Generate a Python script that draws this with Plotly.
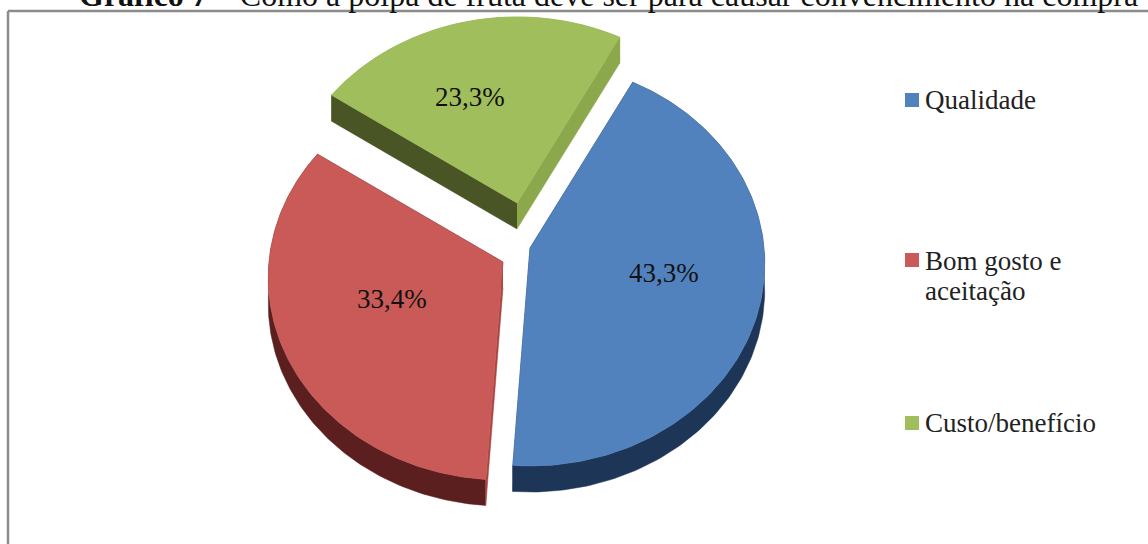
import numpy as np
import plotly.graph_objects as go

# Chart data
categories = ["Qualidade", "Bom gosto e aceitação", "Custo/benefício"]
shares = [43.3, 33.4, 23.3]
title_bold = "Gráfico 7"
title_rest = " – Como a polpa de fruta deve ser para causar convencimento na compra"
legend_lines = [["Qualidade"], ["Bom gosto e", "aceitação"], ["Custo/benefício"]]

# Styling per slice: top face, outer rim, cut face
top_colors = ["#5282BE", "#C95A57", "#A0BE5B"]
rim_colors = ["#1D3557", "#5A1F1E", "#8CA84C"]
cut_colors = ["#1D3557", "#A84542", "#4A5526"]

# Projection of the tilted disc and the exploded apex of each slice
RADIUS_X, RADIUS_Y, PERSPECTIVE = 234.0, 200.8, 0.079
DEPTH = 26.0
START_ANGLE = 28.0
apexes = [(530, 248), (503, 262), (517, 203)]
label_positions = [(664, 273), (392, 299), (470, 97)]
legend_key_y = [100, 260, 423]
legend_line_y = [[100], [261, 291], [423]]
FONT = "Liberation Serif"


def project(theta_deg, apex):
    t = np.radians(theta_deg)
    d = 1 + PERSPECTIVE * np.cos(t)
    return apex[0] + RADIUS_X * np.sin(t) / d, apex[1] - RADIUS_Y * np.cos(t) / d


def polygon(fig, xs, ys, color, name):
    fig.add_trace(go.Scatter(x=xs, y=ys, mode="lines", fill="toself", fillcolor=color,
                             line=dict(color=color, width=0.5), name=name,
                             hoverinfo="name", showlegend=False))


fig = go.Figure()
angles = START_ANGLE + np.concatenate([[0], np.cumsum(shares)]) * 3.6

# Back-to-front order: red, blue, green
for i in [1, 0, 2]:
    a0, a1 = angles[i], angles[i + 1]
    apex = apexes[i]
    ax, ay = float(apex[0]), float(apex[1])
    x, y = project(np.linspace(a0, a1, 160), apex)

    # outer rim
    polygon(fig, np.r_[x, x[::-1]], np.r_[y, y[::-1] + DEPTH], rim_colors[i], categories[i])
    # flat faces left by the cut, visible only where they turn to the viewer
    polygon(fig, [ax, x[-1], x[-1], ax], [ay, y[-1], y[-1] + DEPTH, ay + DEPTH],
            rim_colors[i], categories[i])
    polygon(fig, [ax, x[0], x[0], ax], [ay, y[0], y[0] + DEPTH, ay + DEPTH],
            cut_colors[i], categories[i])
    # top face
    polygon(fig, np.r_[ax, x, ax], np.r_[ay, y, ay], top_colors[i], categories[i])

annotations = []
for share, (lx, ly) in zip(shares, label_positions):
    annotations.append(dict(x=lx, y=ly, text=f"{share:.1f}%".replace(".", ","), showarrow=False,
                            font=dict(family=FONT, size=27, color="#111111")))

shapes = [dict(type="line", x0=8, x1=8, y0=544, y1=11, line=dict(color="#8C8C8C", width=2.5)),
          dict(type="line", x0=8, x1=1148, y0=11, y1=11, line=dict(color="#8C8C8C", width=2.5))]

for color, key_y, lines, ys in zip(top_colors, legend_key_y, legend_lines, legend_line_y):
    shapes.append(dict(type="rect", x0=905, x1=919, y0=key_y - 7, y1=key_y + 7,
                       fillcolor=color, line=dict(width=0)))
    for text, ty in zip(lines, ys):
        annotations.append(dict(x=923, y=ty, text=text, xanchor="left", showarrow=False,
                                font=dict(family=FONT, size=27, color="#222222")))

# Heading sits against the top edge of the page, above the chart frame
annotations.append(dict(xref="paper", yref="paper", x=77 / 1148, y=1, yshift=5,
                        xanchor="left", yanchor="middle", showarrow=False,
                        text=f"<b>{title_bold}</b>{title_rest}",
                        font=dict(family=FONT, size=32, color="#111111")))

fig.update_layout(
    width=1148, height=544, margin=dict(l=0, r=0, t=0, b=0),
    paper_bgcolor="white", plot_bgcolor="white", showlegend=False,
    xaxis=dict(range=[0, 1148], visible=False, fixedrange=True),
    yaxis=dict(range=[544, 0], visible=False, fixedrange=True),
    annotations=annotations, shapes=shapes,
)
fig.write_html("out.html", config=dict(displayModeBar=False))
